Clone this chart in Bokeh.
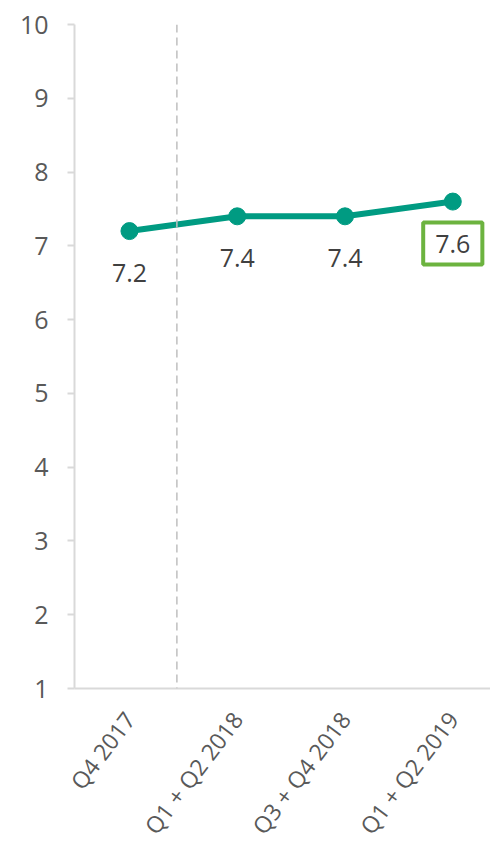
from bokeh.plotting import figure
from bokeh.models import Range1d, Span, Label, FixedTicker, ColumnDataSource
from bokeh.core.properties import value
from bokeh.embed import file_html
from bokeh.resources import INLINE
import math

categories = ["Q4 2017", "Q1 + Q2 2018", "Q3 + Q4 2018", "Q1 + Q2 2019"]
scores = [7.2, 7.4, 7.4, 7.6]
label_texts = ["7.2", "7.4", "7.4", "7.6"]
y_ticks = [1, 2, 3, 4, 5, 6, 7, 8, 9, 10]

FONT = "Open Sans"
TEAL = "#009B82"
GREEN = "#6CB33F"
AXIS_GRAY = "#D9D9D9"

xs = list(range(len(categories)))

p = figure(width=490, height=855, output_backend="svg", toolbar_location=None,
           x_range=Range1d(-0.51, 3.35), y_range=Range1d(1, 10),
           min_border_left=74, min_border_top=24, min_border_right=0,
           min_border_bottom=167)
p.outline_line_color = None
p.xgrid.visible = False
p.ygrid.visible = False

# y axis
p.yaxis.ticker = FixedTicker(ticks=y_ticks)
p.yaxis.axis_line_color = AXIS_GRAY
p.yaxis.axis_line_width = 2
p.yaxis.major_tick_line_color = AXIS_GRAY
p.yaxis.major_tick_line_width = 2
p.yaxis.major_tick_out = 7
p.yaxis.major_tick_in = 0
p.yaxis.minor_tick_line_color = None
p.yaxis.major_label_text_font = FONT
p.yaxis.major_label_text_font_size = "25px"
p.yaxis.major_label_text_color = "#595959"
p.yaxis.major_label_standoff = 19

# x axis
p.xaxis.ticker = FixedTicker(ticks=xs)
p.xaxis.major_label_overrides = {i: c for i, c in zip(xs, categories)}
p.xaxis.axis_line_color = AXIS_GRAY
p.xaxis.axis_line_width = 2
p.xaxis.major_tick_line_color = None
p.xaxis.minor_tick_line_color = None
p.xaxis.major_label_orientation = math.radians(53)
p.xaxis.major_label_text_font = FONT
p.xaxis.major_label_text_font_size = "23px"
p.xaxis.major_label_text_color = "#595959"
p.xaxis.major_label_standoff = 20

# divider
p.add_layout(Span(location=0.44, dimension="height", line_color="#BFBFBF",
                  line_width=1.5, line_dash="8 5"))

src = ColumnDataSource(dict(x=xs, y=scores, t=label_texts))
p.line("x", "y", source=src, line_color=TEAL, line_width=6)
p.scatter("x", "y", source=src, size=17, fill_color=TEAL, line_color=TEAL)

lab_src = ColumnDataSource(dict(x=xs[:-1], y=scores[:-1], t=label_texts[:-1]))
p.text("x", "y", text="t", source=lab_src, y_offset=42, text_align="center",
       text_baseline="middle", text_font=value(FONT), text_font_size="25px",
       text_color="#404040")

p.add_layout(Label(x=xs[-1], y=scores[-1], text=label_texts[-1], y_offset=-42,
                   text_align="center", text_baseline="middle", text_font=FONT,
                   text_font_size="25px", text_color="#404040",
                   border_line_color=GREEN, border_line_width=4,
                   background_fill_color="white", padding=12))

open("out.html", "w").write(file_html(p, INLINE))
